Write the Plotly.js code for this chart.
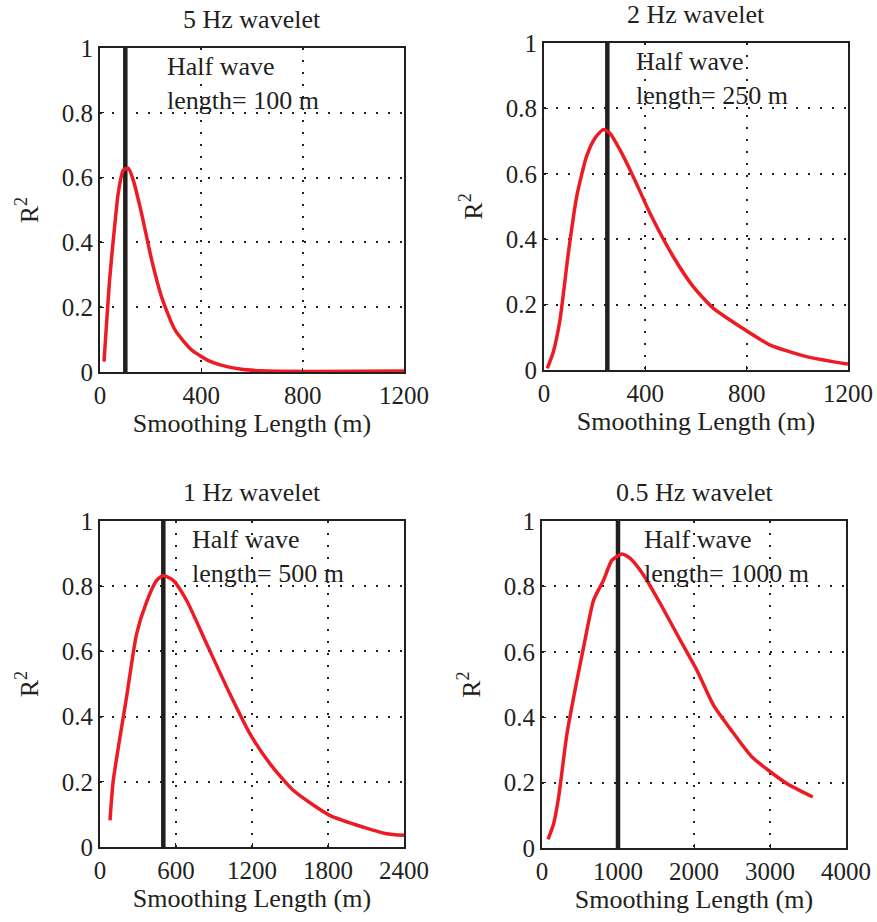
<!DOCTYPE html>
<html>
<head>
<meta charset="utf-8">
<script src="https://cdn.plot.ly/plotly-3.0.1.min.js"></script>
<style>html,body{margin:0;padding:0;background:#fff;}#chart{width:877px;height:922px;}</style>
</head>
<body>
<div id="chart"></div>
<script>
// ---- data ----
const titles = ["5 Hz wavelet", "2 Hz wavelet", "1 Hz wavelet", "0.5 Hz wavelet"];
const halfWave = [100, 250, 500, 1000];
const xMax = [1200, 1200, 2400, 4000];
const xTicks1 = [0, 400, 800, 1200];
const xTicks2 = [0, 400, 800, 1200];
const xTicks3 = [0, 600, 1200, 1800, 2400];
const xTicks4 = [0, 1000, 2000, 3000, 4000];
const yTicks = [0, 0.2, 0.4, 0.6, 0.8, 1];

const x5Hz = [16, 39, 59, 72, 92, 112, 131, 164, 204, 243, 296, 362, 428, 474, 553, 632, 842, 1200];
const r5Hz = [0.032, 0.294, 0.459, 0.552, 0.623, 0.629, 0.593, 0.49, 0.346, 0.232, 0.13, 0.068, 0.035, 0.022, 0.009, 0.004, 0.002, 0.003];

const x2Hz = [13, 37, 63, 96, 129, 168, 201, 234, 260, 300, 352, 418, 510, 589, 668, 773, 891, 1036, 1200];
const r2Hz = [0.005, 0.056, 0.153, 0.357, 0.53, 0.653, 0.709, 0.735, 0.724, 0.673, 0.592, 0.48, 0.347, 0.255, 0.189, 0.133, 0.077, 0.041, 0.018];

const x1Hz = [79, 105, 210, 289, 368, 447, 499, 578, 683, 841, 1025, 1183, 1341, 1525, 1814, 2077, 2261, 2400];
const r1Hz = [0.082, 0.204, 0.46, 0.654, 0.752, 0.818, 0.833, 0.818, 0.757, 0.624, 0.47, 0.348, 0.256, 0.174, 0.097, 0.061, 0.041, 0.036];

const x05Hz = [79, 153, 219, 329, 460, 548, 679, 810, 920, 1051, 1161, 1336, 1555, 1818, 2037, 2256, 2475, 2760, 3220, 3562];
const r05Hz = [0.026, 0.074, 0.156, 0.35, 0.513, 0.615, 0.758, 0.819, 0.88, 0.899, 0.886, 0.835, 0.748, 0.636, 0.544, 0.437, 0.365, 0.279, 0.197, 0.156];

const annText = ["Half wave<br>length= 100 m", "Half wave<br>length= 250 m", "Half wave<br>length= 500 m", "Half wave<br>length= 1000 m"];

// ---- styling ----
const INK = "#231f20";
const RED = "#ed1c24";
const FONT = "Liberation Serif, Times New Roman, serif";

const xs = [x5Hz, x2Hz, x1Hz, x05Hz];
const ys = [r5Hz, r2Hz, r1Hz, r05Hz];
const xTickSets = [xTicks1, xTicks2, xTicks3, xTicks4];
const domX = [[0.1140, 0.4607], [0.6203, 0.9669], [0.1140, 0.4607], [0.6180, 0.9647]];
const domY = [[0.5965, 0.9479], [0.5987, 0.9534], [0.0813, 0.4349], [0.0803, 0.4349]];
const annX = [257, 355, 710, 1316];

const traces = [];
const layout = {
  width: 877, height: 922,
  margin: {l: 0, r: 0, t: 0, b: 0},
  paper_bgcolor: "#fff", plot_bgcolor: "#fff",
  showlegend: false,
  font: {family: FONT, size: 25, color: INK},
  annotations: []
};

for (let i = 0; i < 4; i++) {
  const sfx = i === 0 ? "" : String(i + 1);
  const xa = "x" + sfx, ya = "y" + sfx;
  traces.push({
    x: [halfWave[i], halfWave[i]], y: [0, 1], xaxis: xa, yaxis: ya,
    mode: "lines", line: {color: INK, width: 4.5}, hoverinfo: "skip"
  });
  traces.push({
    x: xs[i], y: ys[i], xaxis: xa, yaxis: ya,
    mode: "lines", line: {color: RED, width: 3.5, shape: "spline", smoothing: 0.6}
  });
  const common = {
    showline: true, mirror: true, linecolor: INK, linewidth: 2,
    showgrid: true, gridcolor: INK, gridwidth: 2, griddash: "2px,10px",
    zeroline: false, ticks: "inside", ticklen: 4, tickcolor: INK, tickwidth: 1,
    tickfont: {family: FONT, size: 25, color: INK}
  };
  layout["xaxis" + sfx] = Object.assign({}, common, {
    domain: domX[i], anchor: ya, range: [0, xMax[i]],
    tickmode: "array", tickvals: xTickSets[i], ticktext: xTickSets[i].map(String),
    title: {text: "Smoothing Length (m)", font: {family: FONT, size: 26, color: INK}, standoff: 2}
  });
  layout["yaxis" + sfx] = Object.assign({}, common, {
    domain: domY[i], anchor: xa, range: [0, 1],
    tickmode: "array", tickvals: yTicks, ticktext: yTicks.map(String),
    title: {text: "R<sup>2</sup>", font: {family: FONT, size: 26, color: INK}, standoff: 16}
  });
  layout.annotations.push({
    xref: "paper", yref: "paper",
    x: (domX[i][0] + domX[i][1]) / 2, y: domY[i][1] + 0.013,
    xanchor: "center", yanchor: "bottom", showarrow: false,
    text: titles[i], font: {family: FONT, size: 26, color: INK}
  });
  layout.annotations.push({
    xref: xa, yref: ya, x: annX[i], y: 0.995,
    xanchor: "left", yanchor: "top", align: "left", showarrow: false,
    text: annText[i], font: {family: FONT, size: 26, color: INK}
  });
}

Plotly.newPlot("chart", traces, layout, {staticPlot: true});
</script>
</body>
</html>
